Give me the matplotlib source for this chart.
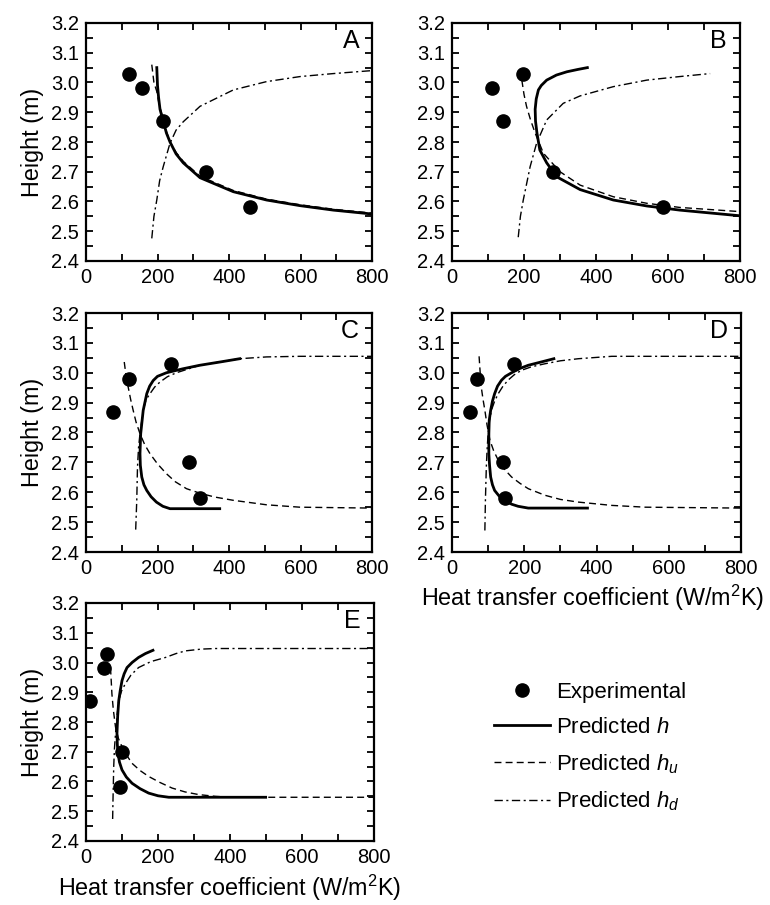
import matplotlib
matplotlib.use("Agg")
import matplotlib.pyplot as plt
from matplotlib.ticker import MultipleLocator

plt.rcParams['font.family'] = ['Liberation Sans', 'DejaVu Sans']
plt.rcParams['mathtext.fontset'] = 'custom'
plt.rcParams['mathtext.rm'] = 'Liberation Sans'
plt.rcParams['mathtext.it'] = 'Liberation Sans:italic'

# ---------------- data ----------------
exp_height = [3.03, 2.98, 2.87, 2.70, 2.58]

exp_A = [120, 158, 216, 335, 459]
exp_B = [196, 112, 141, 280, 587]
exp_C = [239, 120, 76, 289, 318]
exp_D = [171, 68, 49, 140, 146]
exp_E = [58, 49, 12, 100, 95]

# Panel A
h_A_x = [198, 200, 203, 207, 216, 225, 235, 252, 272, 319, 412, 505, 599, 692, 800]
h_A_y = [3.05, 2.99, 2.95, 2.91, 2.87, 2.83, 2.80, 2.76, 2.73, 2.68, 2.633, 2.605, 2.586, 2.571, 2.558]
hu_A_x = [184, 190, 198, 204, 216, 225, 235, 252, 272, 319, 412, 505, 599, 692, 800]
hu_A_y = [3.06, 3.00, 2.97, 2.93, 2.875, 2.835, 2.80, 2.765, 2.735, 2.685, 2.637, 2.608, 2.589, 2.574, 2.561]
hd_A_x = [184, 190, 198, 206, 216, 235, 252, 272, 319, 412, 505, 599, 692, 800]
hd_A_y = [2.476, 2.55, 2.605, 2.67, 2.717, 2.796, 2.84, 2.868, 2.92, 2.975, 3.003, 3.02, 3.03, 3.04]

# Panel B
h_B_x = [376, 350, 319, 290, 263, 248, 240, 234, 231, 232, 236, 244, 263, 291, 356, 448, 541, 633, 800]
h_B_y = [3.05, 3.044, 3.036, 3.025, 3.008, 2.99, 2.975, 2.945, 2.91, 2.87, 2.83, 2.773, 2.73, 2.683, 2.64, 2.605, 2.585, 2.571, 2.552]
hu_B_x = [194, 200, 207, 218, 231, 254, 300, 356, 448, 541, 633, 800]
hu_B_y = [3.008, 2.96, 2.92, 2.875, 2.83, 2.762, 2.70, 2.655, 2.616, 2.594, 2.58, 2.566]
hd_B_x = [184, 190, 198, 217, 235, 263, 309, 356, 448, 541, 633, 717]
hd_B_y = [2.48, 2.55, 2.605, 2.717, 2.796, 2.874, 2.93, 2.955, 2.986, 3.008, 3.02, 3.03]

# Panel C
h_C_x = [430, 380, 318, 270, 225, 200, 188, 178, 170, 160, 153, 151, 152, 156, 162, 170, 182, 197, 215, 235, 374]
h_C_y = [3.047, 3.037, 3.025, 3.013, 3.0, 2.988, 2.974, 2.955, 2.93, 2.874, 2.796, 2.729, 2.69, 2.651, 2.625, 2.606, 2.585, 2.567, 2.553, 2.545, 2.545]
hu_C_x = [107, 112, 118, 125, 132, 140, 151, 164, 179, 200, 225, 250, 281, 318, 360, 412, 505, 598, 800]
hu_C_y = [3.036, 2.99, 2.952, 2.91, 2.874, 2.835, 2.796, 2.76, 2.729, 2.695, 2.662, 2.635, 2.612, 2.597, 2.584, 2.573, 2.558, 2.55, 2.547]
hd_C_x = [139, 142, 144, 147, 151, 160, 168, 179, 192, 207, 228, 253, 318, 430, 505, 598, 800]
hd_C_y = [2.475, 2.573, 2.684, 2.75, 2.796, 2.874, 2.91, 2.93, 2.952, 2.969, 2.987, 3.0, 3.025, 3.047, 3.053, 3.055, 3.055]

# Panel D
h_D_x = [282, 250, 211, 185, 165, 148, 137, 126, 118, 112, 107, 103, 102, 102, 104, 107, 112, 118, 130, 146, 165, 183, 211, 375]
h_D_y = [3.047, 3.037, 3.025, 3.013, 3.0, 2.988, 2.975, 2.955, 2.93, 2.905, 2.874, 2.84, 2.796, 2.729, 2.69, 2.651, 2.625, 2.606, 2.588, 2.573, 2.56, 2.553, 2.547, 2.547]
hu_D_x = [75, 78, 81, 86, 91, 97, 105, 115, 128, 145, 165, 188, 211, 257, 300, 350, 442, 535, 800]
hu_D_y = [3.055, 3.0, 2.952, 2.91, 2.874, 2.825, 2.774, 2.74, 2.707, 2.677, 2.651, 2.63, 2.612, 2.59, 2.576, 2.567, 2.556, 2.55, 2.547]
hd_D_x = [91, 92.5, 95, 97, 100, 104, 109, 118, 128, 140, 155, 172, 192, 220, 257, 300, 350, 442, 800]
hd_D_y = [2.472, 2.573, 2.684, 2.74, 2.796, 2.84, 2.874, 2.905, 2.93, 2.953, 2.975, 2.993, 3.008, 3.02, 3.03, 3.04, 3.047, 3.055, 3.055]

# Panel E
h_E_x = [186, 165, 146, 128, 114, 106, 100, 95, 91, 88, 86, 87, 89, 93, 100, 112, 128, 150, 174, 200, 230, 499]
h_E_y = [3.041, 3.03, 3.017, 3.0, 2.983, 2.962, 2.939, 2.905, 2.872, 2.82, 2.761, 2.725, 2.694, 2.665, 2.639, 2.615, 2.594, 2.576, 2.561, 2.552, 2.547, 2.547]
hu_E_x = [68, 70, 72, 76, 82, 90, 100, 112, 128, 150, 174, 205, 239, 275, 313, 360, 406, 800]
hu_E_y = [2.983, 2.94, 2.894, 2.84, 2.783, 2.745, 2.717, 2.69, 2.661, 2.637, 2.617, 2.597, 2.578, 2.565, 2.556, 2.55, 2.547, 2.547]
hd_E_x = [74, 75, 77, 79, 82, 86, 91, 99, 109, 125, 146, 180, 221, 250, 276, 320, 360, 499, 800]
hd_E_y = [2.474, 2.539, 2.65, 2.71, 2.761, 2.82, 2.872, 2.905, 2.928, 2.958, 2.983, 3.003, 3.017, 3.03, 3.039, 3.045, 3.047, 3.047, 3.047]

panels = [
    ("A", exp_A, (h_A_x, h_A_y), (hu_A_x, hu_A_y), (hd_A_x, hd_A_y)),
    ("B", exp_B, (h_B_x, h_B_y), (hu_B_x, hu_B_y), (hd_B_x, hd_B_y)),
    ("C", exp_C, (h_C_x, h_C_y), (hu_C_x, hu_C_y), (hd_C_x, hd_C_y)),
    ("D", exp_D, (h_D_x, h_D_y), (hu_D_x, hu_D_y), (hd_D_x, hd_D_y)),
    ("E", exp_E, (h_E_x, h_E_y), (hu_E_x, hu_E_y), (hd_E_x, hd_E_y)),
]

x_ticks = [0, 200, 400, 600, 800]
y_ticks = [2.4, 2.5, 2.6, 2.7, 2.8, 2.9, 3.0, 3.1, 3.2]

# ---------------- layout ----------------
W, H = 770, 905
fig = plt.figure(figsize=(W / 100, H / 100), dpi=100)

boxes = {
    "A": (86, 23, 286, 238),
    "B": (452, 23, 288, 238),
    "C": (86, 313, 286, 239),
    "D": (452, 313, 289, 239),
    "E": (86, 603, 288, 238),
}

tick_fs = 14.5
label_fs = 16.8
xlabel = "Heat transfer coefficient (W/m$^{2}$K)"

hu_style = (0, (5, 3))
hd_style = (0, (6, 2.5, 1.5, 2.5))

handles = None
for name, ex, hc, huc, hdc in panels:
    l, t, w, h = boxes[name]
    ax = fig.add_axes([l / W, 1 - (t + h) / H, w / W, h / H])
    hd_line, = ax.plot(hdc[0], hdc[1], color='black', lw=1.0, linestyle=hd_style)
    hu_line, = ax.plot(huc[0], huc[1], color='black', lw=1.0, linestyle=hu_style)
    h_line, = ax.plot(hc[0], hc[1], color='black', lw=2.0)
    pts, = ax.plot(ex, exp_height, 'o', color='black', ms=9.5, mec='black')
    if handles is None:
        handles = [pts, h_line, hu_line, hd_line]
    ax.set_xlim(0, 800)
    ax.set_ylim(2.4, 3.2)
    ax.set_xticks(x_ticks)
    ax.set_yticks(y_ticks)
    ax.set_yticklabels([f"{v:.1f}" for v in y_ticks])
    ax.xaxis.set_minor_locator(MultipleLocator(100))
    ax.yaxis.set_minor_locator(MultipleLocator(0.05))
    ax.tick_params(which='both', direction='in', top=True, right=True,
                   length=5, width=1.3, labelsize=tick_fs, pad=5)
    for s in ax.spines.values():
        s.set_linewidth(1.6)
    ax.text(0.955, 0.975, name, transform=ax.transAxes, ha='right', va='top',
            fontsize=18)
    if name in ("A", "C", "E"):
        ax.set_ylabel("Height (m)", fontsize=label_fs, labelpad=5)
    if name in ("D", "E"):
        ax.set_xlabel(xlabel, fontsize=label_fs, labelpad=4)
        if name == "D":
            ax.xaxis.set_label_coords(0.485, -0.13)

labels = ["Experimental", "Predicted $h$", "Predicted $h_u$", "Predicted $h_d$"]
fig.legend(handles, labels, loc='upper left',
           bbox_to_anchor=(494 / W, 1 - 682 / H), frameon=False,
           fontsize=16, handlelength=2.5, handletextpad=0.3,
           labelspacing=0.63, borderaxespad=0, borderpad=0)

fig.savefig("out.png", dpi=100)
